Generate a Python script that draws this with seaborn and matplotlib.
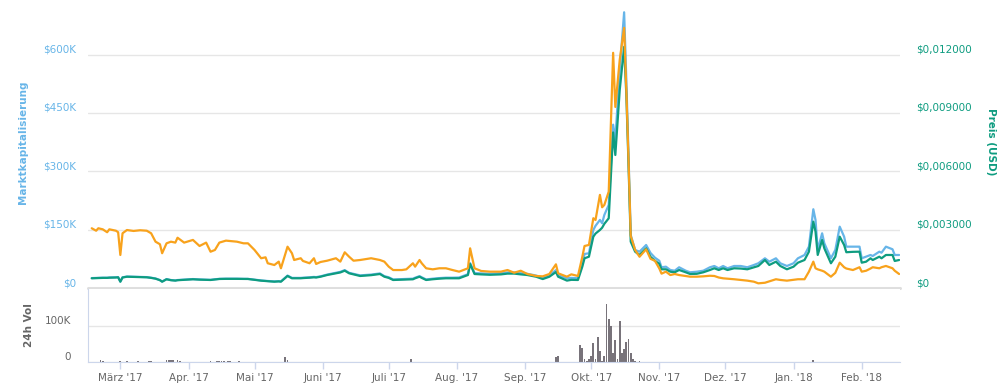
import matplotlib
matplotlib.use('Agg')
import matplotlib.pyplot as plt
from matplotlib.ticker import FixedLocator, FuncFormatter
import seaborn as sns
import pandas as pd

# Tage seit dem 16.02.2017
tage = [
    0, 2, 3, 5, 7, 8, 11, 12, 13, 14,
    16, 19, 22, 25, 27, 29, 31, 32, 34, 36,
    38, 39, 42, 46, 49, 52, 54, 56, 58, 61,
    66, 69, 71, 74, 77, 79, 80, 83, 85, 86,
    89, 91, 92, 95, 96, 99, 101, 102, 104, 107,
    111, 113, 115, 117, 119, 122, 127, 131, 133, 135,
    137, 141, 143, 146, 147, 149, 150, 152, 155, 158,
    161, 164, 167, 171, 172, 174, 177, 181, 186, 189,
    192, 195, 198, 202, 205, 208, 211, 212, 216, 218,
    221, 223, 224, 226, 228, 229, 231, 232, 233, 235,
    237, 238, 240, 242, 243, 244, 245, 247, 249, 252,
    254, 256, 258, 259, 261, 263, 265, 267, 270, 272,
    275, 278, 281, 283, 285, 287, 289, 292, 295, 298,
    301, 303, 306, 308, 311, 313, 316, 319, 321, 324,
    326, 328, 329, 330, 332, 333, 336, 338, 340, 342,
    343, 346, 349, 350, 352, 354, 355, 358, 359, 361,
    364, 365, 367,
]

marktkap_usd = [
    25500, 26000, 26000, 26500, 26500, 27000, 27500, 28000, 16500, 27500,
    29500, 29000, 28500, 28000, 26500, 24500, 20500, 16500, 23000, 20500,
    19500, 20500, 21500, 23000, 22000, 21500, 21000, 22500, 23500, 24000,
    24000, 23500, 23500, 21500, 19500, 18500, 18000, 17000, 17500, 17000,
    32000, 26000, 26000, 26000, 26500, 27500, 28500, 28000, 30000, 34500,
    39000, 41500, 46000, 39000, 36500, 32500, 34500, 37500, 30500, 27500,
    22000, 23000, 23500, 24000, 26500, 30500, 27500, 22000, 24000, 25500,
    26500, 26500, 27000, 35500, 64000, 38500, 37500, 36500, 38000, 40000,
    40000, 38000, 36500, 32000, 26000, 33000, 46000, 33000, 25000, 26000,
    25000, 62000, 87500, 89300, 149200, 160000, 175000, 166500, 187800, 213600,
    420000, 381000, 561000, 709000, 535000, 342000, 136400, 97800, 93400, 110600,
    90000, 78000, 70000, 53300, 54800, 46300, 44500, 53300, 44500, 40400,
    41900, 44500, 53300, 56600, 50700, 56600, 50700, 56600, 56600, 53300,
    59200, 63600, 76400, 67700, 76400, 63600, 56600, 63600, 76400, 84900,
    106300, 202500, 175000, 97800, 140700, 115000, 76400, 97800, 157700, 132000,
    106300, 106300, 106300, 76400, 80500, 84900, 82300, 93400, 90800, 106300,
    99600, 84900, 84900,
]

preis_usd = [
    0.000500, 0.000510, 0.000510, 0.000520, 0.000520, 0.000530, 0.000540, 0.000550, 0.000324, 0.000540,
    0.000580, 0.000570, 0.000560, 0.000550, 0.000520, 0.000480, 0.000400, 0.000324, 0.000448, 0.000400,
    0.000380, 0.000400, 0.000420, 0.000448, 0.000430, 0.000420, 0.000412, 0.000440, 0.000464, 0.000470,
    0.000470, 0.000464, 0.000464, 0.000420, 0.000376, 0.000360, 0.000350, 0.000324, 0.000340, 0.000324,
    0.000618, 0.000500, 0.000500, 0.000500, 0.000510, 0.000530, 0.000550, 0.000540, 0.000580, 0.000668,
    0.000756, 0.000800, 0.000890, 0.000756, 0.000700, 0.000618, 0.000660, 0.000720, 0.000582, 0.000520,
    0.000412, 0.000430, 0.000440, 0.000448, 0.000500, 0.000582, 0.000520, 0.000412, 0.000450, 0.000480,
    0.000500, 0.000500, 0.000500, 0.000668, 0.001236, 0.000720, 0.000700, 0.000680, 0.000700, 0.000740,
    0.000740, 0.000700, 0.000668, 0.000580, 0.000460, 0.000580, 0.000820, 0.000580, 0.000380, 0.000420,
    0.000412, 0.001100, 0.001528, 0.001610, 0.002640, 0.002800, 0.002984, 0.003100, 0.003300, 0.003586,
    0.008000, 0.006840, 0.010180, 0.012400, 0.009940, 0.006320, 0.002382, 0.001868, 0.001698, 0.002042,
    0.001600, 0.001400, 0.001240, 0.000962, 0.000962, 0.000838, 0.000808, 0.000926, 0.000808, 0.000720,
    0.000730, 0.000808, 0.000926, 0.001014, 0.000926, 0.001014, 0.000926, 0.001014, 0.001000, 0.000962,
    0.001066, 0.001132, 0.001440, 0.001184, 0.001354, 0.001132, 0.000962, 0.001096, 0.001302, 0.001440,
    0.001868, 0.003412, 0.002900, 0.001700, 0.002470, 0.002042, 0.001272, 0.001610, 0.002640, 0.002212,
    0.001840, 0.001860, 0.001868, 0.001302, 0.001354, 0.001528, 0.001440, 0.001610, 0.001528, 0.001698,
    0.001698, 0.001390, 0.001440,
]

# Preis in Satoshi (eigene, unsichtbare Achse)
preis_sat = [
    51.2, 49.1, 51.2, 50.3, 47.8, 50.3, 49.1, 47.8, 28.3, 46.9,
    49.7, 48.9, 49.5, 49.1, 46.9, 39.7, 37.5, 29.8, 38.3, 39.7,
    38.9, 43.1, 38.9, 41.2, 36.0, 38.9, 31.1, 32.6, 38.9, 40.6,
    39.7, 38.3, 38.3, 32.6, 25.5, 26.3, 21.2, 19.7, 22.6, 16.9,
    35.4, 29.8, 24.0, 25.5, 23.2, 21.2, 25.5, 20.6, 22.3, 23.4,
    25.5, 22.6, 30.6, 26.8, 23.4, 24.0, 25.5, 24.0, 22.6, 18.3,
    15.4, 15.4, 16.0, 21.2, 18.3, 24.0, 21.2, 16.9, 16.0, 16.9,
    16.9, 15.4, 14.0, 16.9, 34.0, 16.9, 14.6, 14.0, 14.0, 15.4,
    13.1, 14.8, 12.0, 10.3, 10.0, 12.0, 20.3, 12.6, 9.7, 11.7,
    10.3, 26.8, 36.0, 36.9, 59.8, 58.3, 79.8, 69.2, 71.2, 82.6,
    201.6, 155.2, 195.5, 223.0, 169.8, 109.8, 44.6, 32.6, 26.8, 33.2,
    25.0, 23.3, 16.7, 12.3, 14.0, 11.1, 12.0, 11.1, 10.3, 9.7,
    9.7, 10.0, 10.5, 10.3, 9.0, 8.3, 8.0, 7.5, 6.9, 6.3,
    5.4, 4.0, 4.5, 5.7, 7.5, 6.9, 6.3, 7.0, 7.5, 7.5,
    14.0, 22.6, 16.9, 16.0, 14.8, 14.0, 9.7, 13.0, 21.7, 17.8,
    16.7, 15.4, 17.8, 14.0, 14.8, 16.7, 17.8, 16.9, 17.8, 18.9,
    16.9, 14.8, 12.0,
]

vol_tage = [
    4, 5, 7, 8, 13, 16, 17, 21, 23, 26,
    27, 28, 34, 35, 36, 37, 39, 40, 45, 54,
    57, 58, 59, 60, 62, 63, 66, 67, 88, 89,
    145, 211, 212, 222, 223, 224, 225, 226, 227, 228,
    229, 230, 231, 232, 233, 234, 235, 236, 237, 238,
    239, 240, 241, 242, 243, 244, 245, 246, 247, 249,
    328,
]
vol_usd = [
    4600, 2800, 1000, 1000, 2800, 2800, 1000, 2800, 1000, 1900,
    3700, 1000, 5000, 5600, 6500, 5600, 4600, 2800, 1000, 1900,
    2800, 2800, 1900, 3700, 1900, 2800, 1000, 2800, 14000, 4600,
    9300, 13000, 15700, 47000, 38000, 7400, 3700, 7400, 16700, 51900,
    7400, 69500, 30600, 2800, 16700, 161000, 120000, 100000, 26000, 61000,
    7400, 114000, 24000, 36000, 54600, 63900, 24000, 8300, 3700, 2800,
    5000,
]

monats_labels = ["März '17", "Apr. '17", "Mai '17", "Juni '17", "Juli '17", "Aug. '17",
                 "Sep. '17", "Okt. '17", "Nov. '17", "Dez. '17", "Jan. '18", "Feb. '18"]

BLAU = '#67b5e8'
GRUEN = '#0e9c80'
ORANGE = '#f8a21c'
GRAU = '#666666'

start = pd.Timestamp('2017-02-16')
df = pd.DataFrame({
    'datum': start + pd.to_timedelta(tage, unit='D'),
    'marktkap': marktkap_usd,
    'preis': preis_usd,
    'sat': preis_sat,
})
vol = pd.DataFrame({'datum': start + pd.to_timedelta(vol_tage, unit='D'), 'vol': vol_usd})
monate = pd.date_range('2017-03-01', periods=len(monats_labels), freq='MS')

sns.set_style('white')
plt.rcParams['font.family'] = ['DejaVu Sans']

W, H = 1005, 390
fig = plt.figure(figsize=(W / 100, H / 100), dpi=100)
links, rechts = 88, 900
ax = fig.add_axes([links / W, (H - 288) / H, (rechts - links) / W, 280 / H])
ax_vol = fig.add_axes([links / W, (H - 362) / H, (rechts - links) / W, 73 / H], sharex=ax)
ax_preis = ax.twinx()
ax_btc = ax.twinx()

sns.lineplot(data=df, x='datum', y='marktkap', ax=ax, color=BLAU, linewidth=1.6)
sns.lineplot(data=df, x='datum', y='preis', ax=ax_preis, color=GRUEN, linewidth=1.6)
sns.lineplot(data=df, x='datum', y='sat', ax=ax_btc, color=ORANGE, linewidth=1.6)
ax_vol.bar(vol['datum'], vol['vol'], width=0.8, color='#78737a', linewidth=0)

x0 = start - pd.Timedelta(days=1.7)
x1 = start + pd.Timedelta(days=367.4)
ax.set_xlim(x0, x1)
ax.set_ylim(0, 720000)
ax_preis.set_ylim(0, 0.0144)
ax_btc.set_ylim(0, 240)
ax_vol.set_ylim(0, 202800)

for a in (ax, ax_preis, ax_btc, ax_vol):
    a.set_xlabel('')
    a.set_ylabel('')
    for s in a.spines.values():
        s.set_visible(False)
ax_btc.axis('off')

# obere Grafik
ax.yaxis.set_major_locator(FixedLocator([0, 150000, 300000, 450000, 600000]))
ax.yaxis.set_major_formatter(FuncFormatter(lambda v, _: '$0' if v == 0 else f'${v / 1000:.0f}K'))
ax.grid(axis='y', color='#e6e6e6', linewidth=1)
ax.grid(axis='x', visible=False)
ax.tick_params(axis='y', length=0, pad=8.5, labelsize=7.5, labelcolor=BLAU)
ax.tick_params(axis='x', bottom=False, labelbottom=False)
ax.axhline(0, color='#dedede', linewidth=2.2, clip_on=False, zorder=0.5)

ax_preis.yaxis.set_major_locator(FixedLocator([0, 0.003, 0.006, 0.009, 0.012]))
ax_preis.yaxis.set_major_formatter(
    FuncFormatter(lambda v, _: '$0' if v == 0 else f'${v:.6f}'.replace('.', ',')))
ax_preis.tick_params(axis='y', length=0, pad=11.5, labelsize=7.5, labelcolor=GRUEN)
ax_preis.grid(False)

# Volumen
ax_vol.yaxis.set_major_locator(FixedLocator([0, 100000]))
ax_vol.yaxis.set_major_formatter(FuncFormatter(lambda v, _: '0' if v == 0 else f'{v / 1000:.0f}K'))
ax_vol.grid(axis='y', color='#e6e6e6', linewidth=1)
ax_vol.grid(axis='x', visible=False)
ax_vol.spines['left'].set_visible(True)
ax_vol.spines['bottom'].set_visible(True)
ax_vol.spines['left'].set_color('#ccd6eb')
ax_vol.spines['bottom'].set_color('#ccd6eb')
ax_vol.tick_params(axis='y', length=0, pad=12, labelsize=7.5, labelcolor=GRAU)
ax_vol.xaxis.set_major_locator(FixedLocator([matplotlib.dates.date2num(m) for m in monate]))
ax_vol.set_xticklabels(monats_labels)
ax_vol.tick_params(axis='x', bottom=True, length=5, width=1, color='#ccd6eb',
                   pad=3, labelsize=7.5, labelcolor=GRAU)

for a in (ax, ax_preis, ax_vol):
    for lbl in a.get_yticklabels():
        lbl.set_verticalalignment('bottom')

fig.text(23 / W, 1 - 142 / H, 'Marktkapitalisierung', rotation=90, ha='center', va='center',
         fontsize=7.5, fontweight='bold', color=BLAU)
fig.text(991 / W, 1 - 142 / H, 'Preis (USD)', rotation=270, ha='center', va='center',
         fontsize=7.5, fontweight='bold', color=GRUEN)
fig.text(29 / W, 1 - 325 / H, '24h Vol', rotation=90, ha='center', va='center',
         fontsize=7.5, fontweight='bold', color=GRAU)

fig.savefig('out.png', dpi=100)
